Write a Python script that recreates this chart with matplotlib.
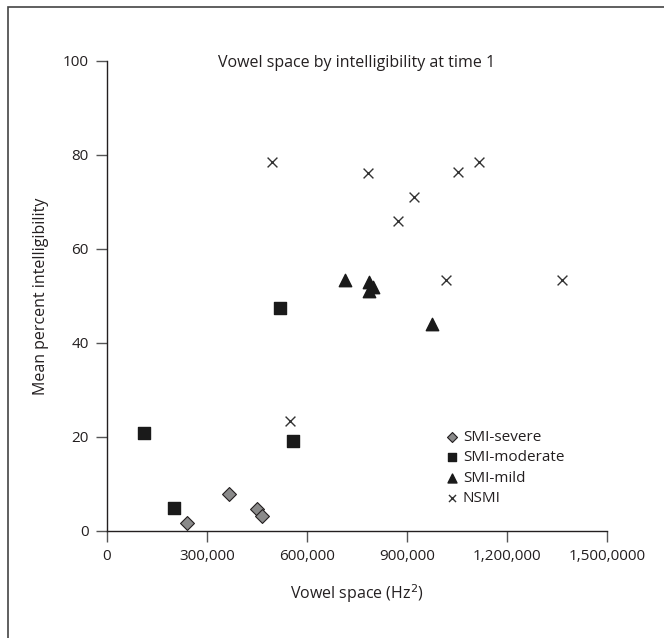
import matplotlib
matplotlib.use("Agg")
import matplotlib.pyplot as plt
from matplotlib.patches import Rectangle

plt.rcParams['font.family'] = ['Open Sans', 'DejaVu Sans']

# === DATA ===
severe_x = [239000, 366000, 450000, 466000]
severe_y = [1.7, 7.9, 4.7, 3.1]

moderate_x = [112000, 200000, 520000, 558000]
moderate_y = [20.8, 5.0, 47.5, 19.2]

mild_x = [715000, 785000, 785000, 797000, 975000]
mild_y = [53.5, 53.0, 51.0, 52.0, 44.0]

nsmi_x = [495000, 550000, 782000, 873000, 920000, 1017000, 1053000, 1116000, 1366000]
nsmi_y = [78.5, 23.5, 76.2, 66.0, 71.0, 53.5, 76.4, 78.5, 53.3]

x_ticks = [0, 300000, 600000, 900000, 1200000, 1500000]
x_ticklabels = ['0', '300,000', '600,000', '900,000', '1,200,000', '1,500,0000']
y_ticks = [0, 20, 40, 60, 80, 100]

INK = '#231f20'

fig = plt.figure(figsize=(6.64, 6.38), dpi=100)
ax = fig.add_axes([107 / 664, 107 / 638, 500 / 664, 470 / 638])

# outer frame (only left/top visible in the crop)
fig.patches.append(Rectangle((8 / 664, -0.2), 1.2, 1 - 7 / 638 + 0.2,
                             transform=fig.transFigure, fill=False,
                             edgecolor='#444444', linewidth=1.2))

ax.scatter(severe_x, severe_y, marker='D', s=50, color='#8a8a8a',
           edgecolors=INK, linewidths=0.8, label='SMI-severe', zorder=3)
ax.scatter(moderate_x, moderate_y, marker='s', s=75, color='#1a1a1a',
           edgecolors='#1a1a1a', label='SMI-moderate', zorder=3)
ax.scatter(mild_x, mild_y, marker='^', s=80, color='#1a1a1a',
           edgecolors='#1a1a1a', label='SMI-mild', zorder=3)
ax.scatter(nsmi_x, nsmi_y, marker='x', s=50, color='#333333',
           linewidths=1.0, label='NSMI', zorder=3)

ax.set_xlim(0, 1500000)
ax.set_ylim(0, 100)
ax.set_xticks(x_ticks)
ax.set_xticklabels(x_ticklabels)
ax.set_yticks(y_ticks)

for s in ['top', 'right']:
    ax.spines[s].set_visible(False)
for s in ['left', 'bottom']:
    ax.spines[s].set_color(INK)
    ax.spines[s].set_linewidth(1.0)
ax.tick_params(axis='both', direction='out', length=8, width=1.0,
               color='#555555', labelcolor=INK, labelsize=11, pad=5)

ax.set_xlabel('Vowel space (Hz$^2$)', fontsize=11.5, color=INK, labelpad=13)
ax.set_ylabel('Mean percent intelligibility', fontsize=11.5, color=INK, labelpad=10)
ax.text(0.5, 0.995, 'Vowel space by intelligibility at time 1', transform=ax.transAxes,
        ha='center', va='center', fontsize=11.5, color=INK)

leg = ax.legend(loc='upper left', bbox_to_anchor=(0.66, 0.228), frameon=False,
                fontsize=11, handletextpad=0.1, labelspacing=0.35,
                handlelength=1.2, markerscale=0.72, borderaxespad=0)
for t in leg.get_texts():
    t.set_color(INK)

fig.savefig('out.png', dpi=100)
